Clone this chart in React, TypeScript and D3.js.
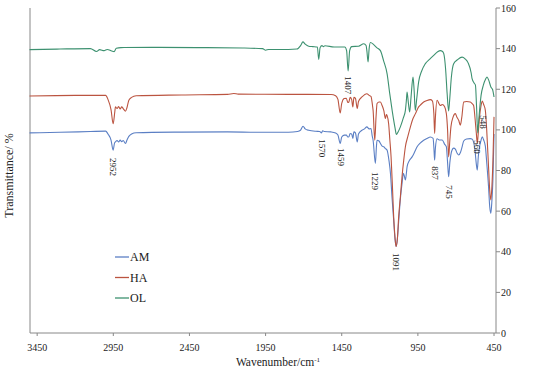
import * as React from 'react';
import * as d3 from 'd3';

type Pt = [number, number];

const xTicks = [3450, 2950, 2450, 1950, 1450, 950, 450];
const yTicks = [0, 20, 40, 60, 80, 100, 120, 140, 160];

const amData: Pt[] = [
	[3500, 98.5], [3300, 98.8], [3100, 99.2], [3000, 99.4], [2985, 98], [2965, 95], [2951, 90], [2942, 93.5],
	[2936, 94.1], [2925, 94.8], [2915, 94], [2905, 95], [2895, 94.2], [2885, 94.8], [2870, 93.3], [2860, 95],
	[2848, 96.8], [2830, 98], [2800, 98.6], [2500, 98.9], [2200, 99], [2000, 98.8], [1800, 98.8], [1740, 99.2],
	[1721, 99.8], [1704, 101.8], [1690, 100.5], [1667, 99.8], [1620, 99.3], [1595, 99.2], [1583, 98.5],
	[1575, 99.6], [1565, 99.2], [1520, 99], [1490, 98.5], [1475, 97.5], [1460, 93.3], [1450, 96.5],
	[1434, 97.4], [1420, 97.5], [1410, 96.5], [1403, 96.6], [1395, 98.2], [1385, 98], [1377, 95.8],
	[1370, 99], [1360, 98.5], [1348, 94.1], [1340, 98], [1317, 99.8], [1300, 100.5], [1285, 101.5],
	[1270, 100.5], [1258, 100.7], [1250, 97], [1244, 94.9], [1229, 83.5], [1222, 92], [1218, 94.9],
	[1205, 94.5], [1196, 93.3], [1185, 92], [1174, 91.7], [1163, 90.8], [1152, 90], [1140, 85], [1130, 78.6],
	[1120, 67], [1109, 55.6], [1100, 46], [1093, 42.6], [1085, 46], [1076, 55], [1065, 66], [1054, 73.6],
	[1045, 78.6], [1038, 77], [1032, 75.3], [1025, 79], [1021, 81.8], [1005, 85], [988, 86.7], [975, 88.5],
	[966, 90], [955, 91.7], [935, 93.5], [912, 94.9], [890, 95.8], [868, 96.5], [850, 95.8], [844, 90],
	[840, 85.1], [835, 91], [824, 95.6], [810, 95], [790, 95], [775, 93], [763, 91.7], [755, 84], [748, 76.9],
	[740, 84], [726, 90], [715, 91], [704, 90.5], [692, 88.5], [682, 87.6], [670, 89], [660, 91.5],
	[649, 94.5], [630, 95.5], [606, 95.7], [595, 95.5], [584, 94], [575, 90], [566, 83], [560, 80.2],
	[553, 87], [545, 91.7], [535, 95], [527, 96.6], [518, 95], [507, 92], [498, 84], [486, 72], [478, 62],
	[471, 58.9], [464, 65], [457, 76], [450, 98],
];

const haData: Pt[] = [
	[3500, 116.7], [3200, 117], [3000, 117], [2985, 115], [2965, 110], [2951, 103], [2940, 109],
	[2936, 111.3], [2925, 110.5], [2915, 111.5], [2905, 110.3], [2895, 111.3], [2885, 110.5], [2870, 109.2],
	[2860, 111], [2848, 114.6], [2830, 116], [2800, 116.8], [2500, 117.2], [2200, 117.5], [2159, 117.9],
	[2130, 117.6], [1800, 117.5], [1520, 117.4], [1490, 116.8], [1475, 115], [1460, 108.3], [1450, 113],
	[1434, 115.4], [1420, 115.6], [1410, 113.5], [1403, 113.7], [1395, 116], [1385, 115], [1377, 111.3],
	[1370, 116], [1360, 115.5], [1348, 110.5], [1340, 114], [1317, 116.2], [1285, 117.8], [1270, 117],
	[1258, 116.5], [1248, 112], [1244, 109.6], [1233, 94.9], [1225, 106], [1218, 113], [1205, 113.7],
	[1196, 113.7], [1185, 112], [1174, 109.6], [1163, 105.6], [1157, 107.5], [1152, 107], [1142, 103],
	[1134, 95], [1126, 86.7], [1117, 72], [1109, 57.3], [1100, 47], [1093, 42.6], [1085, 46], [1076, 57.3],
	[1065, 67], [1054, 77], [1043, 85], [1032, 91.7], [1015, 97], [999, 101.5], [985, 105], [966, 108],
	[945, 111.3], [930, 112.5], [912, 113.7], [890, 114.5], [868, 114.9], [855, 114.3], [845, 108],
	[840, 98.2], [835, 106], [824, 114.6], [812, 113], [802, 112], [790, 112.5], [775, 111.5], [763, 108],
	[755, 100], [748, 86.7], [740, 95], [733, 101.5], [720, 106], [704, 108], [695, 106.5], [682, 104.7],
	[671, 102.3], [662, 106], [649, 113.7], [630, 114], [606, 113.7], [595, 113], [584, 112], [575, 106],
	[566, 98.2], [560, 93.3], [553, 99], [545, 106.4], [535, 112], [527, 114.2], [518, 112.5], [507, 109.6],
	[498, 100], [486, 81.8], [478, 70], [471, 65.5], [464, 72], [457, 85.1], [450, 106.4],
];

const olData: Pt[] = [
	[3500, 139.5], [3300, 139.8], [3100, 140], [3060, 138.6], [3040, 139.5], [3010, 139], [2990, 139.6],
	[2960, 138.8], [2945, 138.5], [2930, 140.2], [2900, 140.5], [2700, 140.6], [2400, 140.5], [2100, 140.3],
	[1970, 140], [1950, 139.2], [1930, 139.6], [1800, 139.6], [1745, 139.8], [1720, 141.5], [1705, 143.3],
	[1690, 142.2], [1667, 141.2], [1640, 141], [1610, 140.8], [1601, 134.7], [1592, 140.5], [1580, 141.5],
	[1570, 141], [1560, 141.4], [1500, 140.8], [1430, 140.8], [1418, 139], [1408, 129], [1398, 139],
	[1385, 141], [1340, 141.2], [1305, 142.4], [1290, 141.5], [1285, 139], [1277, 133.4], [1270, 140],
	[1262, 143], [1240, 142], [1220, 140.5], [1196, 139], [1175, 134], [1152, 127.6], [1135, 118],
	[1119, 109.6], [1100, 101], [1091, 97.7], [1080, 99], [1065, 101.5], [1045, 106], [1032, 109.6],
	[1025, 115], [1021, 118.6], [1012, 113], [1004, 108.8], [995, 116], [982, 126], [975, 120], [967, 109.6],
	[958, 115], [945, 123.6], [925, 129], [901, 132.6], [870, 135], [846, 136.7], [820, 138.5], [802, 139],
	[790, 138.7], [780, 137.5], [768, 130], [758, 118], [748, 109.3], [740, 116], [730, 126], [715, 132.6],
	[690, 134.5], [660, 135.8], [640, 135], [620, 133], [600, 128], [594, 125.2], [580, 123], [572, 122],
	[565, 112], [557, 98.5], [550, 105], [535, 117], [520, 122], [505, 125], [496, 126], [485, 124.5],
	[470, 121], [460, 120], [450, 116.2],
];

const seriesNames = ['AM', 'HA', 'OL'];
const seriesData = [amData, haData, olData];
const seriesColors = ['#5b7fc4', '#bb5440', '#3d9170'];

// peak labels: text, wavenumber, transmittance at label centre
const peakLabels: [string, number, number][] = [
	['2952', 2953, 81.7],
	['1407', 1408, 122],
	['1570', 1581, 91],
	['1459', 1457, 86.6],
	['1229', 1229, 74.8],
	['1091', 1091, 35],
	['837', 838, 78.8],
	['745', 746, 69.4],
	['560', 558, 91.6],
	['548', 522, 103.9],
];

const font = '"Liberation Serif", "Times New Roman", serif';

export default function App() {
	const left = 30;
	const right = 496;
	const top = 8;
	const bottom = 333;

	const x = d3.scaleLinear().domain([3497, 437]).range([left, right]);
	const y = d3.scaleLinear().domain([0, 160]).range([bottom, top]);

	const line = d3
		.line<Pt>()
		.x(d => x(d[0]))
		.y(d => y(d[1]))
		.curve(d3.curveMonotoneX);

	return (
		<svg width={550} height={372} style={{ position: 'absolute', left: 0, top: 0, background: '#fff' }} fontFamily={font}>
			{/* axes */}
			<line x1={left} x2={left} y1={top} y2={bottom} stroke='#888' />
			<line x1={right} x2={right} y1={top} y2={bottom} stroke='#888' />
			<line x1={left} x2={right} y1={bottom} y2={bottom} stroke='#888' />
			{yTicks.map(t => (
				<g key={t}>
					<line x1={right} x2={right + 4} y1={y(t)} y2={y(t)} stroke='#888' />
					<text x={right + 5} y={y(t)} dy='0.35em' fontSize={10} fill='#222'>
						{t}
					</text>
				</g>
			))}
			{xTicks.map(t => (
				<g key={t}>
					<line x1={x(t)} x2={x(t)} y1={bottom} y2={bottom + 3} stroke='#888' />
					<text x={x(t)} y={bottom + 18} textAnchor='middle' fontSize={10} fill='#222'>
						{t}
					</text>
				</g>
			))}
			<text x={(left + right) / 2 + 15} y={366} textAnchor='middle' fontSize={11.5} fill='#222'>
				Wavenumber/cm
				<tspan fontSize={7} dy={-4}>
					-1
				</tspan>
			</text>
			<text transform={`translate(13 ${(top + bottom) / 2 + 5}) rotate(-90)`} textAnchor='middle' fontSize={12} fill='#222'>
				Transmittance/ %
			</text>

			{/* spectra */}
			{seriesData.map((d, i) => (
				<path key={i} d={line(d) ?? ''} fill='none' stroke={seriesColors[i]} strokeWidth={1.1} />
			))}

			{/* peak labels */}
			{peakLabels.map(([label, wn, t]) => (
				<text
					key={label}
					transform={`translate(${x(wn)} ${y(t)}) rotate(90)`}
					textAnchor='middle'
					dy='0.35em'
					fontSize={9}
					fill='#222'
				>
					{label}
				</text>
			))}

			{/* legend */}
			{seriesNames.map((name, i) => (
				<g key={name} transform={`translate(115 ${257 + i * 20.5})`}>
					<line x1={0} x2={14} y1={0} y2={0} stroke={seriesColors[i]} strokeWidth={1.3} />
					<text x={15} y={0} dy='0.35em' fontSize={12} fill='#222'>
						{name}
					</text>
				</g>
			))}
		</svg>
	);
}
